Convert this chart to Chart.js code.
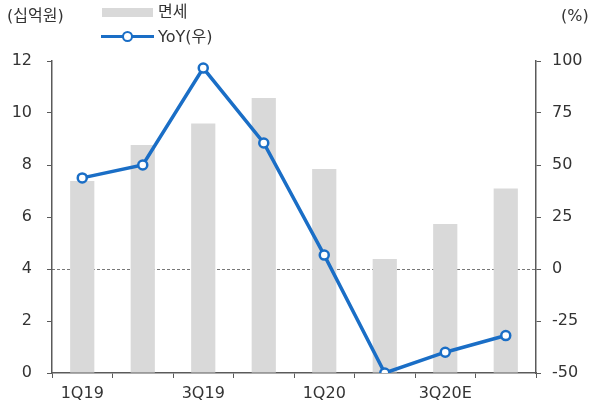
<!DOCTYPE html>
<html><head><meta charset="utf-8">
<script src="https://cdn.jsdelivr.net/npm/chart.js@4"></script>
<style>
html,body{margin:0;padding:0;background:#fff;}
#wrap{position:relative;width:589px;height:413px;font-family:"DejaVu Sans","Noto Sans CJK KR",sans-serif;color:#333;}
canvas{position:absolute;left:0;top:0;}
.t{position:absolute;font-size:16px;line-height:20px;white-space:nowrap;}
</style></head>
<body><div id="wrap">
<canvas id="c" width="589" height="413"></canvas>
<div class="t" style="left:7px;top:6px;">(십억원)</div>
<div class="t" style="left:561px;top:6px;">(%)</div>
<div style="position:absolute;left:102px;top:8px;width:51px;height:9px;background:#d9d9d9;"></div>
<div class="t" style="left:158px;top:2px;">면세</div>
<div style="position:absolute;left:101px;top:35px;width:53px;height:3px;background:#1a6ec6;"></div>
<div style="position:absolute;left:122px;top:31px;width:7px;height:7px;border:2.5px solid #1a6ec6;border-radius:50%;background:#fff;"></div>
<div class="t" style="left:158px;top:27px;">YoY(우)</div>
</div>
<script>
const categories = ['1Q19','2Q19','3Q19','4Q19','1Q20','2Q20','3Q20E','4Q20E'];
const dutyFree = [7.38, 8.77, 9.6, 10.58, 7.85, 4.38, 5.73, 7.1];
const yoy = [43.8, 50.0, 96.6, 60.6, 6.7, -50.0, -40.0, -32.0];
const leftTicks = [0,2,4,6,8,10,12];
const rightTicks = [-50,-25,0,25,50,75,100];

const axisColor = '#5a5a5a';
const font = {family:'"DejaVu Sans","Noto Sans CJK KR",sans-serif', size:16};
new Chart(document.getElementById('c'), {
  data: {
    labels: categories,
    datasets: [
      {type:'line', label:'YoY(우)', data: yoy, yAxisID:'y1', borderColor:'#1a6ec6', borderWidth:3.5,
       pointRadius:4.5, pointBorderWidth:2.5, pointBackgroundColor:'#fff', pointBorderColor:'#1a6ec6', tension:0, order:0},
      {type:'bar', label:'면세', data: dutyFree, yAxisID:'y', backgroundColor:'#d9d9d9',
       barPercentage:0.4, categoryPercentage:1.0, order:1}
    ]
  },
  options: {
    responsive:false, animation:false,
    layout:{padding:{top:61,left:0,right:0,bottom:0}},
    plugins:{legend:{display:false}, tooltip:{enabled:false}},
    scales:{
      x:{
        offset:true,
        grid:{offset:true, drawOnChartArea:false, drawTicks:true, tickLength:5, color:axisColor},
        border:{color:axisColor, width:1.5},
        ticks:{autoSkip:false, maxRotation:0, padding:6, color:'#333', font,
          callback:(v,i)=> i%2===0 ? categories[i] : ''},
        afterFit:(s)=>{s.height=40;}
      },
      y:{
        position:'left', min:0, max:12,
        afterBuildTicks:(s)=>{s.ticks = leftTicks.map(v=>({value:v}));},
        grid:{drawOnChartArea:false, tickLength:5, color:axisColor},
        border:{color:axisColor, width:1.5},
        ticks:{padding:15, color:'#333', font},
        afterFit:(s)=>{s.width=52;}
      },
      y1:{
        position:'right', min:-50, max:100,
        afterBuildTicks:(s)=>{s.ticks = rightTicks.map(v=>({value:v}));},
        grid:{drawOnChartArea:true, tickLength:5,
          color:(ctx)=> ctx.tick && ctx.tick.value===0 ? '#777' : 'rgba(0,0,0,0)',
          tickColor:axisColor, lineWidth:1},
        border:{color:axisColor, width:1.5, dash:[3,2]},
        ticks:{padding:11, color:'#333', font},
        afterFit:(s)=>{s.width=53;}
      }
    }
  }
});
</script>
</body></html>
